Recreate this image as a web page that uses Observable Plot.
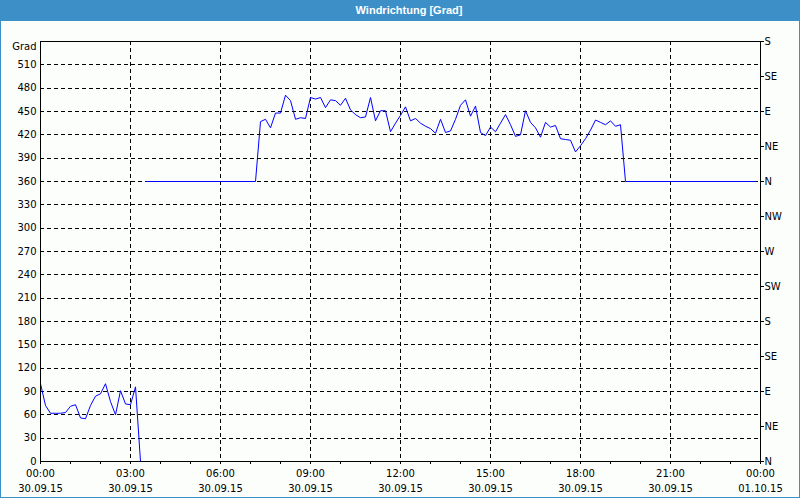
<!DOCTYPE html>
<html>
<head>
<meta charset="utf-8">
<script src="https://cdn.jsdelivr.net/npm/d3@7"></script>
<script src="https://cdn.jsdelivr.net/npm/@observablehq/plot@0.6"></script>
<style>
  html, body { margin: 0; padding: 0; background: #fcfefc; }
  #title { position: absolute; left: 0; top: 0; width: 800px; height: 21px; background: #3c8fc7;
    color: #fff; font: bold 11px "Liberation Sans", Arial, sans-serif; line-height: 21px;
    text-align: center; box-sizing: border-box; padding-left: 18px; }
  #chart { position: absolute; left: 0; top: 20px; }
  #border { position: absolute; left: 0; top: 0; width: 800px; height: 498px; box-sizing: border-box;
    border: 1px solid #3c8fc7; pointer-events: none; }
</style>
</head>
<body>
<div id="title">Windrichtung [Grad]</div>
<div id="chart"></div>
<div id="border"></div>
<script>
// ---- Data ----
const day = "2015-09-30";

const timesA = ["00:00","00:10","00:20","00:30","00:40","00:50",
  "01:00","01:10","01:20","01:30","01:40","01:50",
  "02:00","02:10","02:20","02:30","02:40","02:50",
  "03:00","03:10","03:20"];
const valuesA = [100,72,62,62,62,63, 71,73,56,55,72,84, 87,100,77,60,91,74, 73,96,0];

const timesB = ["03:30","07:10",
  "07:20","07:30","07:40","07:50",
  "08:00","08:10","08:20","08:30","08:40","08:50",
  "09:00","09:10","09:20","09:30","09:40","09:50",
  "10:00","10:10","10:20","10:30","10:40","10:50",
  "11:00","11:10","11:20","11:30","11:40","11:50",
  "12:00","12:10","12:20","12:30","12:40","12:50",
  "13:00","13:10","13:20","13:30","13:40","13:50",
  "14:00","14:10","14:20","14:30","14:40","14:50",
  "15:00","15:10","15:20","15:30","15:40","15:50",
  "16:00","16:10","16:20","16:30","16:40","16:50",
  "17:00","17:10","17:20","17:30","17:40","17:50",
  "18:00","18:10","18:20","18:30","18:40","18:50",
  "19:00","19:10","19:20",
  "19:30","23:50"];
const valuesB = [360,360,
  437,440,429,448,
  448,471,464,440,442,441,
  468,466,468,455,465,464,
  458,467,452,446,442,443,
  468,438,451,451,424,435,
  445,456,438,441,435,431,
  428,422,440,423,425,440,
  458,465,444,457,423,419,
  430,424,435,446,433,418,
  420,451,436,429,417,436,
  430,432,415,414,413,398,
  406,415,426,439,436,433,
  438,431,433,
  360,360];

const leftTicks = [0,30,60,90,120,150,180,210,240,270,300,330,360,390,420,450,480,510];
const rightTickValues = [0,45,90,135,180,225,270,315,360,405,450,495,540];
const rightTickLabels = ["N","NE","E","SE","S","SW","W","NW","N","NE","E","SE","S"];
const xMajorTicks = ["2015-09-30T00:00","2015-09-30T03:00","2015-09-30T06:00","2015-09-30T09:00",
  "2015-09-30T12:00","2015-09-30T15:00","2015-09-30T18:00","2015-09-30T21:00","2015-10-01T00:00"];

// ---- Build table ----
const toDate = (d, t) => new Date(`${d}T${t}:00Z`);
const rows = [
  ...timesA.map((t, i) => ({time: toDate(day, t), value: valuesA[i], seg: "A"})),
  ...timesB.map((t, i) => ({time: toDate(day, t), value: valuesB[i], seg: "B"}))
];
const majors = xMajorTicks.map(s => new Date(s + ":00Z"));
const x0 = majors[0], x1 = majors[majors.length - 1];
const minors = d3.utcHour.range(x0, new Date(+x1 + 1));
const fmtTime = d3.utcFormat("%H:%M");
const fmtDate = d3.utcFormat("%d.%m.%y");

const dash = "4,3";
const chart = Plot.plot({
  width: 800,
  height: 478,
  marginLeft: 40,
  marginRight: 40,
  marginTop: 21,
  marginBottom: 37,
  style: {background: "transparent", color: "#000", fontFamily: "'DejaVu Sans', Verdana, sans-serif", fontSize: "10px"},
  x: {type: "utc", domain: [x0, x1]},
  y: {domain: [0, 540]},
  marks: [
    Plot.gridY(leftTicks.filter(d => d > 0), {stroke: "#000", strokeOpacity: 1, strokeDasharray: dash, shapeRendering: "crispEdges"}),
    Plot.gridX(majors.slice(1, -1), {stroke: "#000", strokeOpacity: 1, strokeDasharray: dash, shapeRendering: "crispEdges"}),
    Plot.line(rows, {x: "time", y: "value", z: "seg", stroke: "#0000ff", strokeWidth: 1}),
    Plot.frame({stroke: "#000", shapeRendering: "crispEdges"}),
    Plot.axisY(leftTicks, {anchor: "left", tickSize: 0, tickPadding: 4, label: null}),
    Plot.axisY([540], {anchor: "left", tickSize: 0, tickPadding: 4, label: null, tickFormat: () => "Grad", dy: 5}),
    Plot.axisY(rightTickValues, {anchor: "right", tickSize: 3, tickPadding: 1, label: null,
      tickFormat: d => rightTickLabels[rightTickValues.indexOf(d)], shapeRendering: "crispEdges"}),
    Plot.axisX(minors, {anchor: "bottom", tickSize: 3, tickFormat: () => "", label: null, shapeRendering: "crispEdges"}),
    Plot.axisX(majors, {anchor: "bottom", tickSize: 0, tickPadding: 8, tickFormat: fmtTime, label: null}),
    Plot.axisX(majors, {anchor: "bottom", tickSize: 0, tickPadding: 23, tickFormat: fmtDate, label: null})
  ]
});
document.getElementById("chart").appendChild(chart);
</script>
</body>
</html>
